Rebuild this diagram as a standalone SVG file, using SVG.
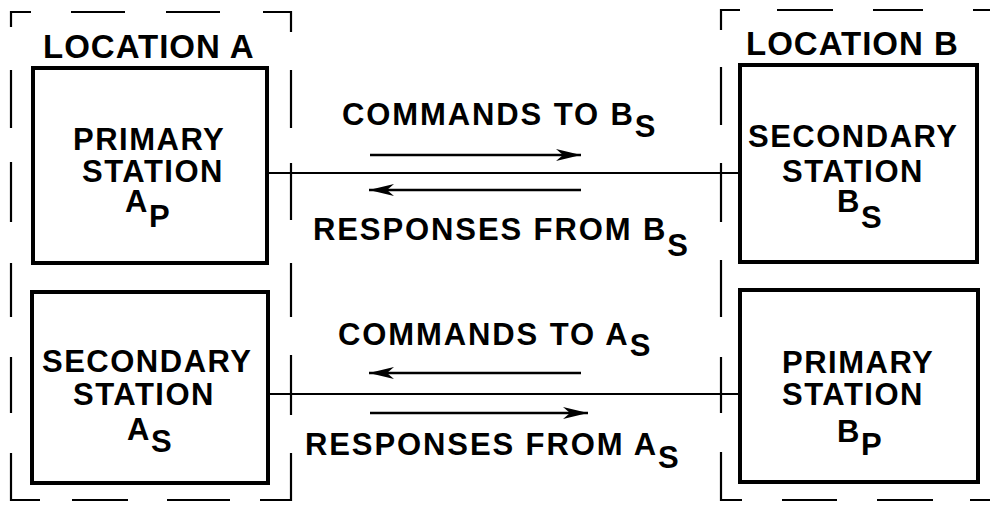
<svg xmlns="http://www.w3.org/2000/svg" width="990" height="505" viewBox="0 0 990 505">
<style>
text{font-family:"Liberation Sans",Arial,sans-serif;font-weight:bold;fill:#000;font-size:31px;letter-spacing:1.5px}
.loc{font-size:33px;letter-spacing:1px}
.lbl{letter-spacing:1.9px}
.box{fill:#fff;stroke:#000;stroke-width:4}
.dash{fill:none;stroke:#000;stroke-width:2.2}
.wire{stroke:#000;stroke-width:2.2;fill:none}
.arr{stroke:#000;stroke-width:2.6;fill:none;marker-end:url(#ah)}
</style>
<defs>
<marker id="ah" markerUnits="userSpaceOnUse" markerWidth="28" markerHeight="14" refX="25" refY="7" orient="auto">
<path d="M0,1 L25,7 L0,13 L7,7 Z" fill="#000"/>
</marker>
</defs>
<rect width="990" height="505" fill="#fff"/>
<g id="locationA">
<path class="dash" d="M11,27V12H31M71,12H125M166,12H220M263,12H291V32M11,70V128M11,162V222M11,263V317M11,357V413M11,453V500H40M72,500H128M167,500H230M260,500H291V453M291,70V128M291,163V220M291,263V317M291,355V415"/>
<text class="loc" x="43" y="58">LOCATION A</text>
</g>
<g id="locationB">
<path class="dash" d="M721,30V10H740M777,10H833M873,10H923M973,10H990M721,67V125M721,163V222M721,260V317M721,357V413M721,452V500H742M782,500H837M877,500H933M970,500H990"/>
<text class="loc" x="746" y="55">LOCATION B</text>
</g>
<g id="connectors">
<line class="wire" x1="267" y1="173" x2="740" y2="173"/>
<line class="wire" x1="268" y1="394" x2="740" y2="394"/>
<line class="arr" x1="370" y1="155" x2="581" y2="155"/>
<line class="arr" x1="581" y1="190" x2="369" y2="190"/>
<line class="arr" x1="581" y1="373" x2="369" y2="373"/>
<line class="arr" x1="370" y1="413" x2="588" y2="413"/>
</g>
<g id="labels">
<text class="lbl" x="342" y="125">COMMANDS TO B<tspan dy="12">S</tspan></text>
<text class="lbl" x="313" y="240">RESPONSES FROM B<tspan dy="16">S</tspan></text>
<text class="lbl" x="338" y="345">COMMANDS TO A<tspan dy="11">S</tspan></text>
<text class="lbl" x="305" y="455">RESPONSES FROM A<tspan dy="13">S</tspan></text>
</g>
<g id="primaryA">
<rect class="box" x="33" y="68" width="234" height="195"/>
<text x="73" y="150">PRIMARY</text>
<text x="82" y="182">STATION</text>
<text x="125" y="212">A<tspan dy="15">P</tspan></text>
</g>
<g id="secondaryA">
<rect class="box" x="32" y="292" width="236" height="191"/>
<text x="42" y="372">SECONDARY</text>
<text x="73" y="405">STATION</text>
<text x="127" y="440">A<tspan dy="12">S</tspan></text>
</g>
<g id="secondaryB">
<rect class="box" x="740" y="65" width="237" height="197"/>
<text x="748" y="147">SECONDARY</text>
<text x="782" y="182">STATION</text>
<text x="837" y="212">B<tspan dy="16">S</tspan></text>
</g>
<g id="primaryB">
<rect class="box" x="740" y="290" width="238" height="192"/>
<text x="782" y="373">PRIMARY</text>
<text x="782" y="405">STATION</text>
<text x="837" y="442">B<tspan dy="13">P</tspan></text>
</g>
</svg>
